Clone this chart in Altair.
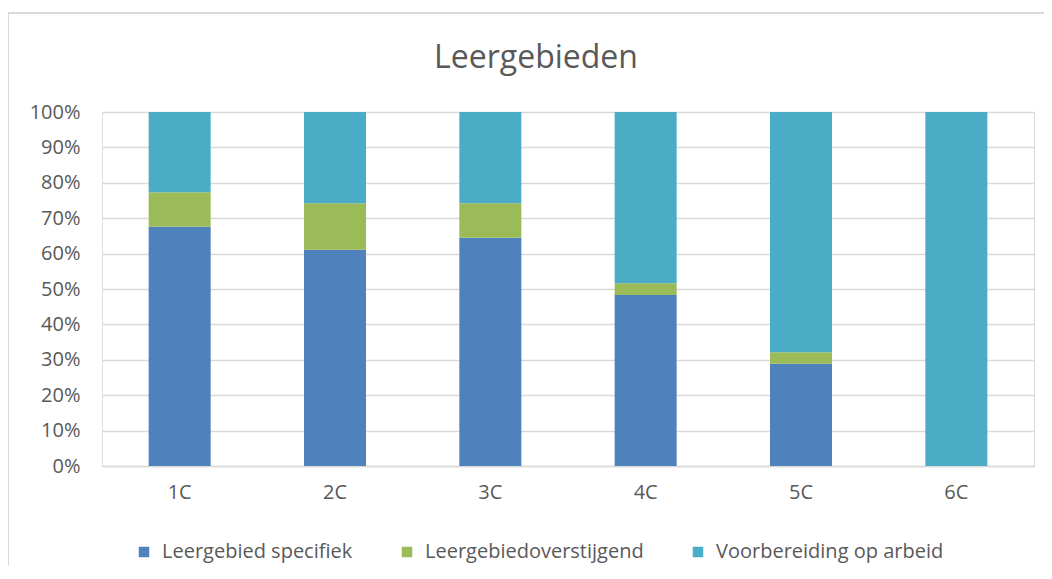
import altair as alt
import pandas as pd

klassen = ["1C", "2C", "3C", "4C", "5C", "6C"]
reeksen = ["Leergebied specifiek", "Leergebiedoverstijgend", "Voorbereiding op arbeid"]
specifiek = [67.6, 61.1, 64.5, 48.3, 28.9, 0.0]
overstijgend = [9.7, 13.1, 9.7, 3.3, 3.2, 0.0]
arbeid = [22.7, 25.8, 25.8, 48.4, 67.9, 100.0]
kleuren = ["#4F81BD", "#9BBB59", "#4BACC6"]
titel = "Leergebieden"

rows = []
for i, k in enumerate(klassen):
    for j, (r, vals) in enumerate(zip(reeksen, [specifiek, overstijgend, arbeid])):
        rows.append({"klas": k, "reeks": r, "waarde": vals[i] / 100.0, "volgorde": j})
df = pd.DataFrame(rows)

FONT = "Open Sans"
GREY = "#595959"
FS = 20

bars = alt.Chart(df).mark_bar(size=62).encode(
    x=alt.X("klas:N", sort=klassen, title=None,
            scale=alt.Scale(paddingInner=0.6, paddingOuter=0.3),
            axis=alt.Axis(labelAngle=0, ticks=False, domain=True, domainColor="#d9d9d9",
                          domainWidth=1.5, labelPadding=16, labelFontSize=FS,
                          labelColor=GREY, labelFont=FONT, grid=False)),
    y=alt.Y("waarde:Q", stack="zero", title=None,
            scale=alt.Scale(domain=[0, 1], nice=False),
            axis=alt.Axis(format=".0%", values=[i / 10 for i in range(11)], ticks=False,
                          domain=False, grid=True, gridColor="#d9d9d9", gridWidth=1.5,
                          labelPadding=22, labelFontSize=FS, labelColor=GREY, labelFont=FONT)),
    color=alt.Color("reeks:N", sort=reeksen,
                    scale=alt.Scale(domain=reeksen, range=kleuren),
                    legend=alt.Legend(title=None, orient="none", direction="horizontal",
                                      legendX=32, legendY=430, columns=3,
                                      symbolType="square", symbolSize=110,
                                      symbolStrokeWidth=0, labelFontSize=FS,
                                      labelColor=GREY, labelFont=FONT, labelOffset=8,
                                      columnPadding=44, labelLimit=400)),
    order=alt.Order("volgorde:Q"),
)

frame = alt.Chart(pd.DataFrame({"a": [0]})).mark_rect(
    filled=False, stroke="#d9d9d9", strokeWidth=2
).encode(x=alt.value(-94), x2=alt.value(960), y=alt.value(-99), y2=alt.value(480))

title_mark = alt.Chart(pd.DataFrame({"t": [titel]})).mark_text(
    font=FONT, fontSize=32, color=GREY, align="center", baseline="alphabetic"
).encode(text="t:N", x=alt.value(434), y=alt.value(-44))

chart = alt.layer(frame, bars, title_mark).properties(
    width=932, height=354,
    autosize=alt.AutoSizeParams(type="none"),
    padding={"left": 94, "top": 104, "right": 10, "bottom": 100},
).configure_view(stroke=None).configure(background="white")

chart.save("out.html", embed_options={"renderer": "svg", "actions": False})
